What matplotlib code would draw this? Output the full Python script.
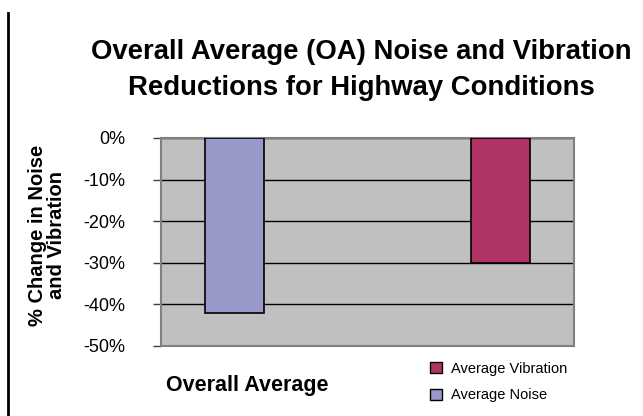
import matplotlib
matplotlib.use("Agg")
import matplotlib.pyplot as plt
from matplotlib.patches import Patch
from matplotlib.ticker import FuncFormatter

# values (percent change)
series = ["Average Noise", "Average Vibration"]
values = [-42, -30]
colors = ["#9898C9", "#B03366"]
yticks = [0, -10, -20, -30, -40, -50]
category = "Overall Average"
title = "Overall Average (OA) Noise and Vibration\nReductions for Highway Conditions"

plt.rcParams["font.family"] = ["Liberation Sans", "DejaVu Sans"]

fig = plt.figure(figsize=(6.43, 4.16), dpi=100)
ax = fig.add_axes([0.2504, 0.1683, 0.6423, 0.5])
ax.set_facecolor("#C0C0C0")

pos = list(range(len(values)))
ax.bar(pos, values, width=0.222, color=colors, edgecolor="black", linewidth=1.2, zorder=3)

ax.set_xlim(-0.276, 1.276)
ax.set_ylim(-50, 0)
ax.set_yticks(yticks)
ax.yaxis.set_major_formatter(FuncFormatter(lambda v, p: "%d%%" % v))
ax.tick_params(axis="y", length=6, width=1, color="#404040", pad=20, labelsize=13)
ax.set_xticks([])
ax.grid(axis="y", color="black", linewidth=1, zorder=1)
for s in ax.spines.values():
    s.set_color("#808080")
    s.set_linewidth(1.5)

# title (no condensed face available, so a smaller bold)
fig.text(361 / 643, 1 - 70 / 416, title, ha="center", va="center", fontsize=19.8,
         fontweight="bold", linespacing=1.5)

fig.text(47 / 643, 1 - 235 / 416, "% Change in Noise\nand Vibration", rotation=90,
         ha="center", va="center", fontsize=14.5, fontweight="bold", linespacing=1.0)

fig.text(247 / 643, 1 - 385 / 416, category, ha="center", va="center",
         fontsize=15.5, fontweight="bold")

# legend: Excel lists vibration first
handles = [Patch(facecolor=colors[1], edgecolor="black", label=series[1]),
           Patch(facecolor=colors[0], edgecolor="black", label=series[0])]
fig.legend(handles=handles, loc="center left", bbox_to_anchor=(0.649, 1 - 382 / 416),
           frameon=False, fontsize=10.5, handlelength=0.8, handleheight=0.8,
           handletextpad=0.6, labelspacing=0.85)

# thin vertical rule at the left edge of the page
fig.add_artist(plt.Line2D([8 / 643, 8 / 643], [0, 1 - 13 / 416], color="black", linewidth=2))

fig.savefig("out.png", dpi=100)
